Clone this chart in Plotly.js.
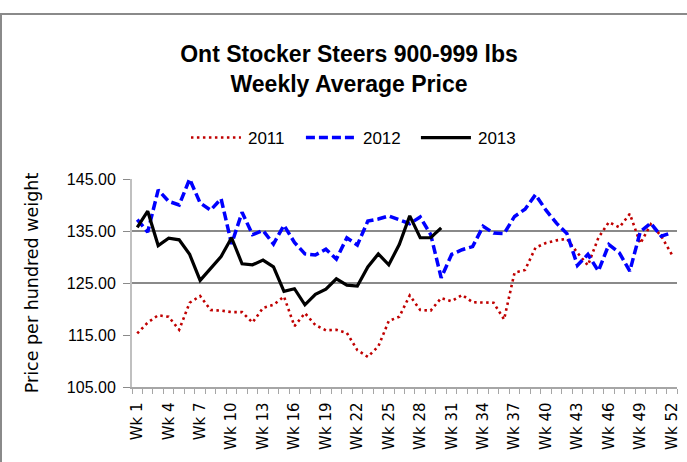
<!DOCTYPE html>
<html>
<head>
<meta charset="utf-8">
<script src="https://cdn.plot.ly/plotly-3.0.1.min.js"></script>
<style>
  html, body { margin: 0; padding: 0; background: #fff; }
  #wrap { position: relative; width: 687px; height: 462px; overflow: hidden; }
  #chart { width: 687px; height: 462px; }
  #frame { position: absolute; left: 0px; top: 13px; width: 720px; height: 520px;
           border-left: 2px solid #8a8a8a; border-top: 2px solid #8a8a8a; pointer-events: none; }
</style>
</head>
<body>
<div id="wrap">
  <div id="chart"></div>
  <div id="frame"></div>
</div>
<script>
// Categories (weeks)
const weeks = ["Wk 1","Wk 2","Wk 3","Wk 4","Wk 5","Wk 6","Wk 7","Wk 8","Wk 9","Wk 10",
  "Wk 11","Wk 12","Wk 13","Wk 14","Wk 15","Wk 16","Wk 17","Wk 18","Wk 19","Wk 20",
  "Wk 21","Wk 22","Wk 23","Wk 24","Wk 25","Wk 26","Wk 27","Wk 28","Wk 29","Wk 30",
  "Wk 31","Wk 32","Wk 33","Wk 34","Wk 35","Wk 36","Wk 37","Wk 38","Wk 39","Wk 40",
  "Wk 41","Wk 42","Wk 43","Wk 44","Wk 45","Wk 46","Wk 47","Wk 48","Wk 49","Wk 50",
  "Wk 51","Wk 52"];

// Series values (price per hundred weight)
const price2011 = [115.3,117.4,118.8,118.5,116.0,121.2,122.5,119.8,119.7,119.4,
  119.4,117.4,120.2,120.8,122.4,116.7,119.2,116.9,115.9,116.0,
  115.4,112.1,110.8,112.8,117.7,118.5,122.6,119.8,119.7,122.1,
  121.5,122.7,121.3,121.3,121.2,118.0,127.0,127.5,131.8,132.7,
  133.2,133.5,130.8,128.4,133.7,136.7,135.7,138.3,132.6,136.3,
  134.0,130.5];
const price2012 = [137.2,134.8,142.9,140.7,140.0,145.0,140.4,139.0,141.2,132.5,
  138.6,134.3,135.1,132.5,136.1,132.8,130.6,130.4,131.5,129.6,
  133.7,132.3,136.9,137.3,137.9,137.2,136.4,137.7,134.3,126.0,
  130.5,131.4,132.0,135.9,134.6,134.5,137.8,139.2,142.0,139.0,
  136.5,134.5,128.4,130.5,127.3,132.4,130.8,127.3,134.9,136.5,
  134.0,134.7];
const price2013 = [135.7,138.8,132.2,133.6,133.3,130.5,125.5,127.9,130.1,133.7,
  128.7,128.5,129.4,128.1,123.4,123.9,120.8,122.8,123.8,125.8,
  124.6,124.4,128.1,130.6,128.5,132.4,137.9,133.7,133.7,135.6];

const seriesNames = ["2011", "2012", "2013"];
const yTicks = [105, 115, 125, 135, 145];
const yGrid = [125, 135, 145];

// positions on the category scale (1-based index of each week)
const idx = weeks.map((w, i) => i + 1);
const labelIdx = idx.filter(n => (n - 1) % 3 === 0);
const labelText = labelIdx.map(n => weeks[n - 1]);

const traces = [
  { x: idx.slice(0, price2011.length), y: price2011, name: seriesNames[0], type: "scatter", mode: "lines",
    line: { color: "#c00000", width: 2.6, dash: "2.5px,3.5px" }, customdata: weeks },
  { x: idx.slice(0, price2012.length), y: price2012, name: seriesNames[1], type: "scatter", mode: "lines",
    line: { color: "#0000ff", width: 3.5, dash: "9px,4px" }, customdata: weeks },
  { x: idx.slice(0, price2013.length), y: price2013, name: seriesNames[2], type: "scatter", mode: "lines",
    line: { color: "#000000", width: 3.2 }, customdata: weeks },
  // grid-only overlay axis
  { x: [idx[0]], y: [yGrid[0]], yaxis: "y2", mode: "markers", marker: { opacity: 0 },
    showlegend: false, hoverinfo: "skip" }
];

const layout = {
  width: 687, height: 462,
  margin: { l: 132, r: 10, t: 179, b: 75 },
  paper_bgcolor: "rgba(0,0,0,0)", plot_bgcolor: "#fff",
  title: {
    text: "Ont Stocker Steers 900-999 lbs<br>Weekly Average Price",
    font: { family: "Liberation Sans, Arial, sans-serif", size: 23, color: "#000", weight: "bold" },
    x: 0.508, xref: "container", xanchor: "center",
    y: 1 - 62 / 462, yref: "container", yanchor: "top"
  },
  showlegend: true,
  legend: {
    orientation: "h", x: 0.529, xref: "container", xanchor: "center",
    y: 1 - 138 / 462, yref: "container", yanchor: "middle",
    font: { family: "Liberation Sans, Arial, sans-serif", size: 17, color: "#000" },
    entrywidth: 70, entrywidthmode: "pixels",
    itemwidth: 30, traceorder: "normal", bgcolor: "rgba(0,0,0,0)"
  },
  xaxis: {
    type: "linear", range: [0.5, 52.5], tickmode: "array", tickvals: labelIdx, ticktext: labelText,
    tickangle: -90, ticks: "", showgrid: false, zeroline: false,
    showline: true, linecolor: "#a6a6a6", linewidth: 1.5,
    tickfont: { family: "DejaVu Sans, sans-serif", size: 15, color: "#000" },
    ticklabelstandoff: 8,
    minor: { ticks: "outside", tick0: 0.5, dtick: 1, ticklen: 5, tickcolor: "#a6a6a6", tickwidth: 1, showgrid: false }
  },
  yaxis: {
    range: [105, 145], tickmode: "array", tickvals: yTicks, tickformat: ".2f",
    showgrid: false, zeroline: false, showline: true, linecolor: "#c0c0c0", linewidth: 2,
    ticks: "outside", ticklen: 7, tickcolor: "#8a8a8a", tickwidth: 1,
    tickfont: { family: "Liberation Sans, Arial, sans-serif", size: 16, color: "#000" },
    ticklabelstandoff: 4,
    title: { text: "Price per hundred weight", standoff: 24,
      font: { family: "DejaVu Sans, sans-serif", size: 17.5, color: "#000" } }
  },
  yaxis2: {
    overlaying: "y", range: [105, 145], tickmode: "array", tickvals: yGrid,
    showgrid: true, gridcolor: "#8a8a8a", gridwidth: 1.2, showticklabels: false,
    zeroline: false, showline: false, ticks: "", side: "left", layer: "below traces"
  }
};

Plotly.newPlot("chart", traces, layout, { staticPlot: true, displayModeBar: false }).then(() => {
  // lengthen legend line samples like the original chart's legend keys
  document.querySelectorAll("#chart .legend .legendlines path").forEach(p => p.setAttribute("d", "M0,0h50"));
  document.querySelectorAll("#chart .legend .legendtext").forEach(t => t.setAttribute("x", 57));
});
</script>
</body>
</html>
